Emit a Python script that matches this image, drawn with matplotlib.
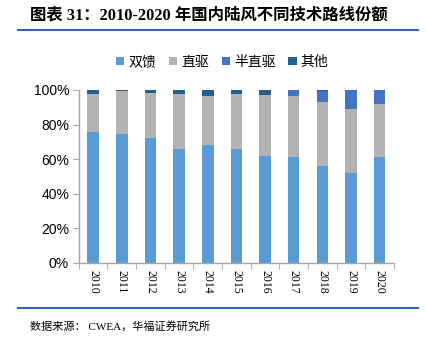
import matplotlib
matplotlib.use("Agg")
import matplotlib.pyplot as plt
import numpy as np
from matplotlib.lines import Line2D
from matplotlib.ticker import PercentFormatter, FixedLocator

plt.rcParams['font.family'] = ['Liberation Sans', 'Noto Sans CJK SC']

# 各技术路线份额（%）
years = ['2010', '2011', '2012', '2013', '2014', '2015',
         '2016', '2017', '2018', '2019', '2020']
dfig = [75.8, 74.8, 72.3, 66.1, 68.4, 65.7, 62.0, 61.4, 55.8, 51.7, 61.0]
direct = [21.9, 24.8, 26.1, 31.6, 28.1, 32.0, 35.3, 35.3, 37.2, 37.1, 30.9]
semi = [0.0, 0.0, 0.0, 0.0, 0.0, 0.0, 0.0, 3.3, 6.4, 11.2, 8.1]
other = [2.3, 0.4, 1.6, 2.3, 3.5, 2.3, 2.7, 0.0, 0.6, 0.0, 0.0]

names = ['双馈', '直驱', '半直驱', '其他']
colors = ['#5B9BD5', '#B3B3B3', '#4472C4', '#255E91']

fig = plt.figure(figsize=(4.26, 3.37), dpi=100)
ax = fig.add_axes([0.185, 0.22, 0.74, 0.513])

x = np.arange(len(years))
bottom = np.zeros(len(years))
for vals, c, n in zip([dfig, direct, semi, other], colors, names):
    v = np.array(vals) / 100
    ax.bar(x, v, 0.4, bottom=bottom, color=c, label=n, zorder=2)
    bottom += v

ax.set_ylim(0, 1)
ax.set_xlim(-0.5, len(years) - 0.5)
ax.yaxis.set_major_formatter(PercentFormatter(1.0, decimals=0))
ax.set_yticks(np.arange(0, 1.01, 0.2))
ax.tick_params(axis='y', labelsize=10, length=4, color='#A6A6A6', pad=3)

# x 轴刻度放在类别之间，标签竖排
ax.set_xticks(x)
ax.set_xticklabels(years, rotation=270, fontsize=8.5, family='Liberation Serif')
ax.tick_params(axis='x', length=0, pad=5)
ax.xaxis.set_minor_locator(FixedLocator(np.arange(-0.5, len(years), 1)))
ax.tick_params(axis='x', which='minor', length=4, color='#A6A6A6')

for s in ['top', 'right']:
    ax.spines[s].set_visible(False)
for s in ['left', 'bottom']:
    ax.spines[s].set_color('#A6A6A6')
    ax.spines[s].set_linewidth(1.0)

ax.legend(loc='lower center', bbox_to_anchor=(0.455, 1.09), ncol=4, frameon=False,
          fontsize=10, handlelength=0.6, handleheight=0.6, handletextpad=0.3,
          columnspacing=0.9, borderaxespad=0)

# 标题与上下分隔线
fig.text(0.07, 0.955, '图表 31：2010-2020 年国内陆风不同技术路线份额',
         fontsize=11.8, fontweight='bold', va='center', ha='left',
         family=['Liberation Serif', 'Noto Sans CJK SC'])
fig.add_artist(Line2D([0.043, 0.982], [0.911, 0.911], color='#3565B0', lw=1.5))
fig.add_artist(Line2D([0.043, 0.982], [0.085, 0.085], color='#3565B0', lw=1.5))
fig.text(0.07, 0.033, '数据来源： CWEA，华福证券研究所', fontsize=8, va='center',
         ha='left', family=['Liberation Serif', 'Noto Sans CJK SC'])

fig.savefig('out.png', dpi=100)
